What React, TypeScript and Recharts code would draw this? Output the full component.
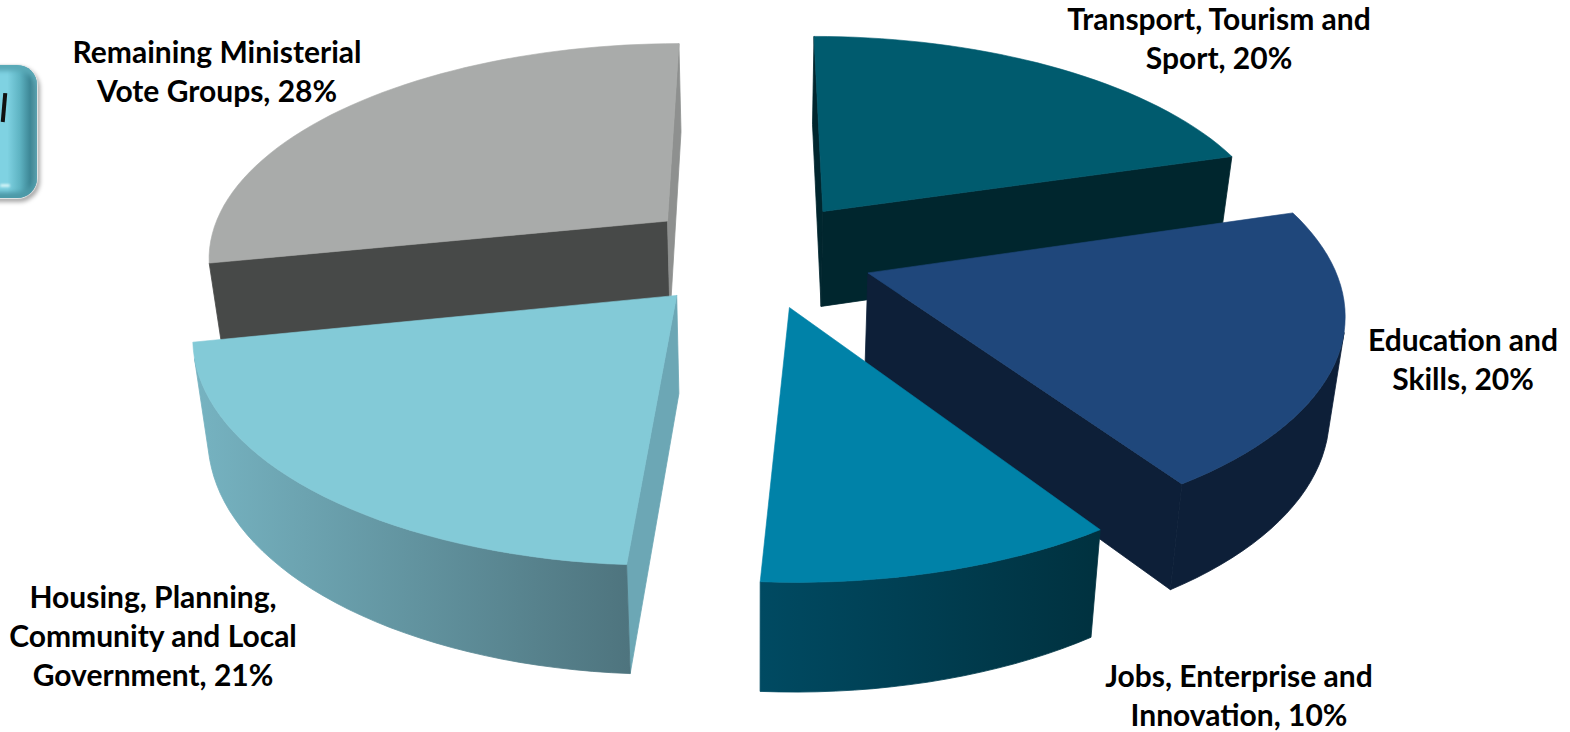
import React from 'react';
import { PieChart, Pie } from 'recharts';

// drawn back to front, so the list starts with the slice at the rear left
const categoryRows = [
  ['Remaining Ministerial', 'Vote Groups'],
  ['Transport, Tourism and', 'Sport'],
  ['Education and', 'Skills'],
  ['Jobs, Enterprise and', 'Innovation'],
  ['Housing, Planning,', 'Community and Local', 'Government'],
];
const shares = [28.2, 20.4, 20.3, 10.3, 20.8];

const topColors = ['#a9abaa', '#005b6e', '#1f477b', '#0082a8', '#83cad7'];
const rimColors = [
  ['#474948', '#474948'],
  ['#00262e', '#00262e'],
  ['#0d1f38', '#0d1f38'],
  ['#004a62', '#00313f'],
  ['#76b3c1', '#4e747e'],
];
const startWallColors = ['#474948', '#00262e', '#0d1f38', '#0d3f50', '#6ca7b5'];
const endWallColors = ['#8e908f', '#00262e', '#0d1f38', '#00313f', '#6ca7b5'];
const explode = [115, 118, 118, 115, 115];
const nudgeX = [0, 0, 1, 4, 0];
const labelSpots = [
  { x: 217, y: 63 },
  { x: 1219, y: 30 },
  { x: 1463, y: 351 },
  { x: 1239, y: 687 },
  { x: 153, y: 608 },
];

const RADIAN = Math.PI / 180;
const SQUASH = 0.4635;
const VANISH = 3000;
const CX = 754.5;
const CY = 254;

// plane offsets from the pie centre to screen position
const project = (u: number, v: number) => {
  const k = 1 / (1 - v / VANISH);
  return { x: CX + u * k, y: CY + v * SQUASH * k };
};
// same point on the underside of the slab
const drop = (p: { x: number; y: number }) => ({
  x: 757 + (p.x - 757) * 0.973,
  y: p.y + 88 + (p.y - 40) * 0.04,
});
const toPath = (pts: { x: number; y: number }[]) =>
  pts.map((p, i) => `${i ? 'L' : 'M'}${p.x.toFixed(1)},${p.y.toFixed(1)}`).join('') + 'Z';
const area = (pts: { x: number; y: number }[]) =>
  pts.reduce((s, p, i) => {
    const q = pts[(i + 1) % pts.length];
    return s + p.x * q.y - q.x * p.y;
  }, 0);

const Slab = (props: any) => {
  const { startAngle, endAngle, outerRadius, midAngle, index, fill } = props;
  const i = index ?? topColors.indexOf(fill);
  const mid = midAngle ?? (startAngle + endAngle) / 2;
  const ou = explode[i] * Math.cos(mid * RADIAN) + nudgeX[i];
  const ov = -explode[i] * Math.sin(mid * RADIAN);
  const tip = project(ou, ov);

  const rim: { x: number; y: number }[] = [];
  const steps = Math.ceil(Math.abs(startAngle - endAngle) / 2);
  for (let s = 0; s <= steps; s++) {
    const a = startAngle + ((endAngle - startAngle) * s) / steps;
    rim.push(project(ou + outerRadius * Math.cos(a * RADIAN), ov - outerRadius * Math.sin(a * RADIAN)));
  }
  const quad = (a: { x: number; y: number }, b: { x: number; y: number }) => [a, b, drop(b), drop(a)];

  // only walls turned towards the viewer get drawn
  const rimTop: { x: number; y: number }[] = [];
  const rimBottom: { x: number; y: number }[] = [];
  for (let s = 0; s < rim.length - 1; s++) {
    if (area(quad(rim[s], rim[s + 1])) < 0) {
      if (!rimTop.length) {
        rimTop.push(rim[s]);
        rimBottom.push(drop(rim[s]));
      }
      rimTop.push(rim[s + 1]);
      rimBottom.push(drop(rim[s + 1]));
    }
  }
  const startWall = quad(tip, rim[0]);
  const endWall = quad(rim[rim.length - 1], tip);
  const gradId = `rim-${i}`;

  return (
    <g>
      <defs>
        <linearGradient id={gradId} x1="0" y1="0" x2="1" y2="0">
          <stop offset="0%" stopColor={rimColors[i][0]} />
          <stop offset="100%" stopColor={rimColors[i][1]} />
        </linearGradient>
      </defs>
      {area(startWall) < 0 && (
        <path d={toPath(startWall)} fill={startWallColors[i]} stroke={startWallColors[i]} strokeWidth={0.8} />
      )}
      {area(endWall) < 0 && (
        <path d={toPath(endWall)} fill={endWallColors[i]} stroke={endWallColors[i]} strokeWidth={0.8} />
      )}
      {rimTop.length > 1 && (
        <path
          d={toPath([...rimTop, ...rimBottom.reverse()])}
          fill={`url(#${gradId})`}
          stroke={`url(#${gradId})`}
          strokeWidth={0.8}
        />
      )}
      <path d={toPath([tip, ...rim])} fill={fill} stroke={fill} strokeWidth={0.6} />
    </g>
  );
};

const SliceLabel = (props: any) => {
  const { index } = props;
  const rows = categoryRows[index];
  const spot = labelSpots[index];
  return (
    <text
      x={spot.x}
      y={spot.y}
      textAnchor="middle"
      fontFamily="Lato, sans-serif"
      fontWeight={700}
      fontSize={30}
      fill="#000"
    >
      {rows.map((row, r) => (
        <tspan key={row} x={spot.x} dy={r ? 39 : 0}>
          {r === rows.length - 1 ? `${row}, ${Math.round(shares[index])}%` : row}
        </tspan>
      ))}
    </text>
  );
};

const data = categoryRows.map((rows, i) => ({
  name: rows.join(' '),
  value: shares[i],
  fill: topColors[i],
}));

// transport slice begins straight up, the list begins one slice earlier
const total = shares.reduce((s, v) => s + v, 0);
const START = 90 + (shares[0] / total) * 360;

export default function App() {
  return (
    <div style={{ position: 'absolute', left: 0, top: 0, width: 1570, height: 732, background: '#fff', overflow: 'hidden' }}>
      {/* button cut off by the left edge of the slide */}
      <div
        style={{
          position: 'absolute',
          left: -50,
          top: 65,
          width: 87,
          height: 133,
          borderRadius: 20,
          background: 'linear-gradient(90deg, #7fd2e2 66%, #5fb4c3 80%, #3d8796 92%, #5d9aa6 100%)',
          boxShadow:
            'inset 0 6px 4px #5aa9b7, inset 0 -6px 4px #4d9aa8, 0 0 1px 1px #e4e9ea, 2px 3px 4px 1px rgba(0,0,0,0.35)',
        }}
      />
      <div
        style={{
          position: 'absolute',
          left: 0,
          top: 184,
          width: 10,
          height: 3,
          borderRadius: 2,
          background: '#d3f3f7',
          filter: 'blur(1px)',
        }}
      />
      <div
        style={{
          position: 'absolute',
          left: 2,
          top: 93,
          width: 3.5,
          height: 29,
          background: '#111',
          transform: 'rotate(5deg)',
        }}
      />
      <PieChart width={1570} height={732} style={{ position: 'absolute', left: 0, top: 0 }}>
        <Pie
          data={data}
          dataKey="value"
          nameKey="name"
          cx={CX}
          cy={CY}
          innerRadius={0}
          outerRadius={462}
          startAngle={START}
          endAngle={START - 360}
          paddingAngle={0}
          stroke="none"
          shape={Slab}
          label={SliceLabel}
          labelLine={false}
          isAnimationActive={false}
        />
      </PieChart>
    </div>
  );
}
